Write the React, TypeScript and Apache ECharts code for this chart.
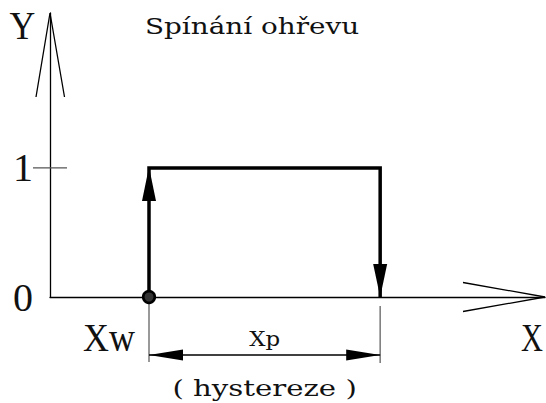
import { useEffect, useRef } from "react";
import * as echarts from "echarts";

// ---- data ----
const switchPoints = [2.0, 6.67]; // Xw (heating switched on), Xw + Xp (switched off)
const loopX = [2.0, 2.0, 6.67, 6.67];
const loopY = [0, 1, 1, 0];
const axisExtent = [10, 2.2]; // x axis end, y axis end
const yTickValues = [0, 1];
const axisNames = ["X", "Y"];
const markNames = ["Xw", "Xp", "( hystereze )"];
const titleText = "Spínání ohřevu";

const BIG_FONT = "Liberation Serif";
const SMALL_FONT = "DejaVu Serif";
const INK = "#111";

function inkWidth(text: string, font: string): number {
  const ctx = document.createElement("canvas").getContext("2d");
  if (!ctx) return 1;
  ctx.font = font;
  const m = ctx.measureText(text);
  const w = (m.actualBoundingBoxLeft || 0) + (m.actualBoundingBoxRight || 0);
  return w > 0 ? w : m.width;
}

function fit(text: string, size: number, family: string, target: number): number {
  return target / inkWidth(text, `${size}px "${family}"`);
}

export default function App() {
  const ref = useRef<HTMLDivElement>(null);

  useEffect(() => {
    if (!ref.current) return;
    const chart = echarts.init(ref.current, null, { renderer: "svg" });

    const sX = fit(axisNames[0], 40, BIG_FONT, 22);
    const sY = fit(axisNames[1], 40, BIG_FONT, 25);
    const sXw = fit(markNames[0], 40, BIG_FONT, 52);
    const sXp = fit(markNames[1], 20, SMALL_FONT, 30);
    const sHyst = fit(markNames[2], 23, SMALL_FONT, 182);
    const sTitle = fit(titleText, 23, SMALL_FONT, 212);

    const loopData = loopX.map((x, i) => [x, loopY[i]]);

    const option: any = {
      animation: false,
      backgroundColor: "#fff",
      grid: { left: 50, right: 1, top: 13, bottom: 106, containLabel: false, outerBoundsMode: "none" },
      xAxis: {
        type: "value",
        min: 0,
        max: axisExtent[0],
        axisLine: { show: true, lineStyle: { color: "#000", width: 1.3 } },
        axisTick: { show: false },
        axisLabel: { show: false },
        splitLine: { show: false },
      },
      yAxis: {
        type: "value",
        min: 0,
        max: axisExtent[1],
        interval: 1,
        axisLine: { show: true, onZero: false, lineStyle: { color: "#000", width: 1.3 } },
        axisTick: { show: false },
        splitLine: { show: false },
        axisLabel: {
          show: true,
          margin: 17,
          fontFamily: BIG_FONT,
          fontSize: 40,
          color: INK,
          formatter: (v: number) => (yTickValues.indexOf(v) >= 0 ? String(v) : ""),
        },
      },
      graphic: [
        {
          type: "text",
          x: 252,
          y: 26,
          scaleX: sTitle,
          style: {
            text: titleText,
            fontFamily: SMALL_FONT,
            fontSize: 23,
            fill: INK,
            align: "center",
            verticalAlign: "middle",
          },
        },
      ],
      series: [
        {
          type: "line",
          data: loopData,
          symbol: "none",
          z: 3,
          lineStyle: { color: "#000", width: 3.5, join: "miter", cap: "butt" },
        },
        {
          type: "custom",
          coordinateSystem: "cartesian2d",
          z: 5,
          clip: false,
          data: [[switchPoints[0], switchPoints[1]]],
          renderItem: (_params: any, api: any) => {
            const on = api.value(0);
            const off = api.value(1);
            const o = api.coord([0, 0]);
            const xTip = api.coord([axisExtent[0], 0]);
            const yTip = api.coord([0, axisExtent[1]]);
            const pOn0 = api.coord([on, 0]);
            const pOn1 = api.coord([on, 1]);
            const pOff0 = api.coord([off, 0]);
            const y0 = o[1];
            const y1 = pOn1[1];
            const dimY = y0 + 58;
            const midX = (pOn0[0] + pOff0[0]) / 2;
            const thin = { stroke: "#000", lineWidth: 1.3, fill: "none" };
            const grey = { stroke: "#777", lineWidth: 1.5 };
            const txt = (text: string, x: number, y: number, sx: number, size: number, family: string) => ({
              type: "text",
              x,
              y,
              scaleX: sx,
              style: { text, fontFamily: family, fontSize: size, fill: INK, align: "center", verticalAlign: "middle" },
            });
            return {
              type: "group",
              children: [
                // open arrowheads of the axes
                {
                  type: "polyline",
                  shape: { points: [[xTip[0] - 82, xTip[1] - 14.5], [xTip[0], xTip[1]], [xTip[0] - 82, xTip[1] + 14.5]] },
                  style: thin,
                },
                {
                  type: "polyline",
                  shape: { points: [[yTip[0] - 14, yTip[1] + 84], [yTip[0], yTip[1]], [yTip[0] + 14.5, yTip[1] + 84]] },
                  style: thin,
                },
                // tick at Y = 1
                { type: "line", shape: { x1: o[0] - 17, y1: y1, x2: o[0] + 17, y2: y1 }, style: { stroke: "#555", lineWidth: 1.3 } },
                // switching arrows
                {
                  type: "polygon",
                  shape: { points: [[pOn1[0], y1 - 1], [pOn1[0] - 7, y1 + 33], [pOn1[0] + 7, y1 + 33]] },
                  style: { fill: "#000" },
                },
                {
                  type: "polygon",
                  shape: { points: [[pOff0[0], y0], [pOff0[0] - 7, y0 - 33], [pOff0[0] + 7, y0 - 33]] },
                  style: { fill: "#000" },
                },
                // extension lines
                { type: "line", shape: { x1: pOn0[0], y1: y0 + 5, x2: pOn0[0], y2: y0 + 65 }, style: grey },
                { type: "line", shape: { x1: pOff0[0], y1: y0 + 9, x2: pOff0[0], y2: y0 + 66 }, style: grey },
                // dimension line
                { type: "line", shape: { x1: pOn0[0], y1: dimY, x2: pOff0[0], y2: dimY }, style: { stroke: "#000", lineWidth: 1.3 } },
                {
                  type: "polygon",
                  shape: { points: [[pOn0[0], dimY], [pOn0[0] + 34, dimY - 5.5], [pOn0[0] + 34, dimY + 5.5]] },
                  style: { fill: "#000" },
                },
                {
                  type: "polygon",
                  shape: { points: [[pOff0[0], dimY], [pOff0[0] - 34, dimY - 5.5], [pOff0[0] - 34, dimY + 5.5]] },
                  style: { fill: "#000" },
                },
                // switching point marker
                { type: "circle", shape: { cx: pOn0[0], cy: y0, r: 5.8 }, style: { fill: "#333", stroke: "#000", lineWidth: 2.6 } },
                // texts
                txt(axisNames[1], o[0] - 27.5, yTip[1] + 12.5, sY, 40, BIG_FONT),
                txt(axisNames[0], xTip[0] - 13, y0 + 40, sX, 40, BIG_FONT),
                txt(markNames[0], pOn0[0] - 40, y0 + 40, sXw, 40, BIG_FONT),
                txt(markNames[1], midX, y0 + 42, sXp, 20, SMALL_FONT),
                txt(markNames[2], midX, y0 + 91, sHyst, 23, SMALL_FONT),
              ],
            };
          },
        },
      ],
    };

    chart.setOption(option);
    return () => chart.dispose();
  }, []);

  return <div ref={ref} style={{ position: "fixed", left: 0, top: 0, width: 546, height: 403 }} />;
}
